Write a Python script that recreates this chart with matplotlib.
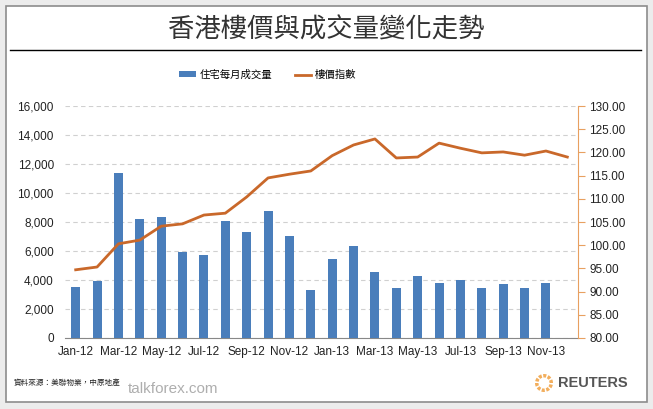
import numpy as np
import matplotlib.pyplot as plt
from matplotlib.patches import Rectangle, Wedge
from matplotlib.lines import Line2D

plt.rcParams['font.family'] = ['Liberation Sans', 'Noto Sans CJK TC', 'DejaVu Sans']

# data (Jan-12 .. Dec-13)
months = ["Jan-12", "Feb-12", "Mar-12", "Apr-12", "May-12", "Jun-12", "Jul-12", "Aug-12",
          "Sep-12", "Oct-12", "Nov-12", "Dec-12", "Jan-13", "Feb-13", "Mar-13", "Apr-13",
          "May-13", "Jun-13", "Jul-13", "Aug-13", "Sep-13", "Oct-13", "Nov-13", "Dec-13"]
volume = [3500, 3900, 11380, 8200, 8340, 5930, 5720, 8070, 7310, 8760, 7030, 3310,
          5450, 6340, 4550, 3450, 4280, 3790, 4000, 3450, 3720, 3450, 3790, np.nan]
price_index = [94.7, 95.3, 100.3, 101.1, 104.1, 104.6, 106.5, 106.9, 110.4, 114.5, 115.3, 116.0,
               119.3, 121.6, 122.9, 118.8, 119.0, 122.0, 120.9, 119.9, 120.1, 119.4, 120.3, 119.0]

bar_color = "#4a7ebb"
line_color = "#c9682a"

fig = plt.figure(figsize=(6.53, 4.09), dpi=100)
fig.patch.set_facecolor("#ececec")

# white panel with grey frame
fig.add_artist(Rectangle((6 / 653, 1 - 402 / 409), 641 / 653, 396 / 409,
                         transform=fig.transFigure, facecolor="white",
                         edgecolor="#8c8c8c", linewidth=1.2, zorder=-10))

fig.text(0.5, 1 - 30 / 409, "香港樓價與成交量變化走勢", ha="center", va="center",
         fontsize=19, color="#333333", family=["Noto Sans CJK TC"])
fig.add_artist(Line2D([10 / 653, 641 / 653], [1 - 50 / 409, 1 - 50 / 409],
                      transform=fig.transFigure, color="black", linewidth=1))

ax = fig.add_axes([65 / 653, 1 - 338 / 409, 513 / 653, 232 / 409])
ax2 = ax.twinx()
ax.set_zorder(1)
ax2.set_zorder(2)
ax2.patch.set_visible(False)
ax.patch.set_visible(False)

x = np.arange(len(months))
bars = ax.bar(x, volume, width=0.42, color=bar_color, zorder=3)
line, = ax2.plot(x, price_index, color=line_color, linewidth=2, zorder=4)

ax.set_xlim(-0.5, len(months) - 0.5)
ax.set_ylim(0, 16000)
ax.set_yticks(np.arange(0, 16001, 2000))
ax.set_yticklabels([f"{v:,}" for v in range(0, 16001, 2000)])
ax.set_xticks(x[::2])
ax.set_xticklabels(months[::2])
ax.grid(axis="y", color="#d0d0d0", linestyle=(0, (4, 3)), linewidth=0.8, zorder=0)

ax2.set_ylim(80, 130)
ax2.set_yticks(np.arange(80, 131, 5))
ax2.set_yticklabels([f"{v:.2f}" for v in range(80, 131, 5)])

for s in ["top", "left", "right"]:
    ax.spines[s].set_visible(False)
ax.spines["bottom"].set_color("#888888")
for s in ["top", "left", "bottom"]:
    ax2.spines[s].set_visible(False)
ax2.spines["right"].set_color("#e8a060")

ax.tick_params(axis="y", length=0, labelsize=8.5, colors="#222222", pad=8)
ax.tick_params(axis="x", length=0, labelsize=8.5, colors="#222222", pad=6)
ax2.tick_params(axis="y", length=5, color="#e8a060", labelsize=8.5,
                labelcolor="#222222", pad=3)

leg = fig.legend([bars, line], ["住宅每月成交量", "樓價指數"], ncol=2,
                 loc="center", bbox_to_anchor=(0.41, 1 - 75 / 409), frameon=False,
                 handlelength=1.6, handleheight=0.5, columnspacing=2.2,
                 handletextpad=0.3, prop={"family": ["Noto Sans CJK TC"], "size": 7.5})

fig.text(14 / 653, 1 - 383 / 409, "資料來源：美聯物業，中原地產", fontsize=5.5,
         va="center", color="#222222", family=["Noto Sans CJK TC"])
fig.text(128 / 653, 1 - 389 / 409, "talkforex.com", fontsize=11, va="center",
         color="#9a9a9a", alpha=0.8)

# Reuters logo
cy = 1 - 383 / 409
for i in range(10):
    ang = i * 36
    fig.add_artist(Wedge((544, 409 - 383), 9, ang, ang + 24, width=3.5,
                         transform=None, facecolor="#f0a040", edgecolor="none",
                         alpha=0.85))
fig.text(558 / 653, cy, "REUTERS", fontsize=10.5, va="center", color="#555555",
         fontweight="bold")

fig.savefig("out.png", dpi=100, facecolor=fig.get_facecolor())
